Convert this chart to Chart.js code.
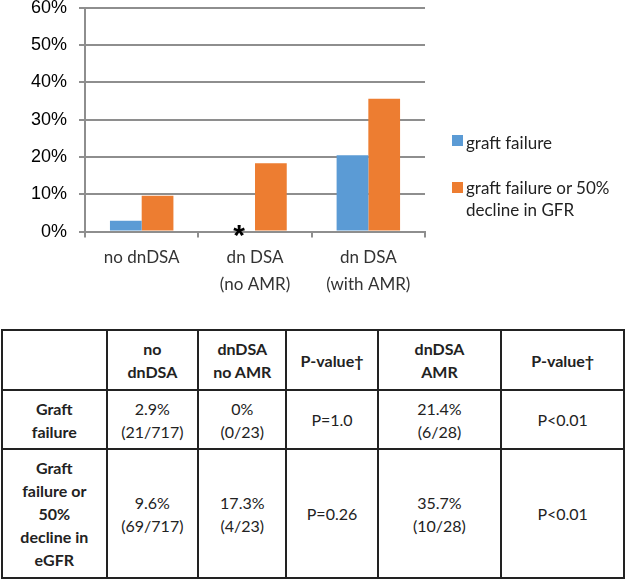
<!DOCTYPE html>
<html>
<head>
<meta charset="utf-8">
<script src="https://cdn.jsdelivr.net/npm/chart.js@4.4.1/dist/chart.umd.min.js"></script>
<style>
  body { margin: 0; background: #fff; width: 628px; height: 579px; position: relative; overflow: hidden; font-family: Lato, "Open Sans", sans-serif; }
  #chartBox { position: absolute; left: 0; top: -15px; width: 628px; height: 319px; }
  .leg { position: absolute; left: 452px; font-size: 17px; color: #222; line-height: 22px; }
  .leg span { position: absolute; left: 0; width: 11px; height: 11px; }
  .leg div { position: absolute; left: 14px; white-space: nowrap; }
  table { position: absolute; left: 1px; top: 329px; border-collapse: collapse; width: 624px; }
  td { border: 2.5px solid #222; text-align: center; vertical-align: middle; font-size: 16px; line-height: 23px; color: #222; padding: 0; }
  tr.head td, td.rowhead { font-weight: bold; }
</style>
</head>
<body>
<div id="chartBox"><canvas id="myChart"></canvas></div>
<div id="legend"></div>
<table id="tbl"></table>
<script>
// chart data
const categories = [['no dnDSA'], ['dn DSA', '(no AMR)'], ['dn DSA', '(with AMR)']];
const seriesNames = ['graft failure', 'graft failure or 50%\ndecline in GFR'];
const graftFailure = [2.9, 0, 20.5];
const failureOrDecline = [9.6, 18.3, 35.6];
const yTicks = [0, 10, 20, 30, 40, 50, 60];
const colors = ['#5b9bd5', '#ed7d31'];

// table data
const tableHeader = ['', 'no\ndnDSA', 'dnDSA\nno AMR', 'P-value\u2020', 'dnDSA\nAMR', 'P-value\u2020'];
const rowLabels = ['Graft\nfailure', 'Graft\nfailure or\n50%\ndecline in\neGFR'];
const tableRows = [
  ['2.9%\n(21/717)', '0%\n(0/23)', 'P=1.0', '21.4%\n(6/28)', 'P<0.01'],
  ['9.6%\n(69/717)', '17.3%\n(4/23)', 'P=0.26', '35.7%\n(10/28)', 'P<0.01']
];
const colWidths = [105, 91, 88, 91, 125, 124];
const rowHeights = [60, 59, 129];

// asterisk on the empty bar
const asteriskPlugin = {
  id: 'asterisk',
  afterDatasetsDraw(chart) {
    const bar = chart.getDatasetMeta(0).data[1];
    const y0 = chart.scales.y.getPixelForValue(0);
    const ctx = chart.ctx;
    ctx.save();
    ctx.fillStyle = '#000';
    ctx.font = 'bold 30px "Liberation Sans"';
    ctx.textAlign = 'center';
    ctx.textBaseline = 'middle';
    ctx.fillText('*', bar.x, y0 + 5);
    ctx.restore();
  }
};

const ctx = document.getElementById('myChart').getContext('2d');
new Chart(ctx, {
  type: 'bar',
  data: {
    labels: categories,
    datasets: [
      { label: seriesNames[0], data: graftFailure, backgroundColor: colors[0] },
      { label: seriesNames[1], data: failureOrDecline, backgroundColor: colors[1] }
    ]
  },
  options: {
    responsive: true,
    maintainAspectRatio: false,
    animation: false,
    layout: { padding: { left: 19, right: 203, top: 0, bottom: 0 } },
    datasets: { bar: { categoryPercentage: 0.56, barPercentage: 1.0 } },
    plugins: { legend: { display: false }, tooltip: { enabled: false } },
    scales: {
      y: {
        min: 0,
        max: 60,
        afterBuildTicks(axis) { axis.ticks = yTicks.map(v => ({ value: v })); },
        ticks: {
          callback: v => v + '%',
          color: '#000',
          padding: 12,
          font: { family: 'Liberation Sans', size: 18 }
        },
        grid: { color: '#8e8e8e', lineWidth: 2, tickLength: 6 },
        border: { color: '#8e8e8e', width: 2 }
      },
      x: {
        ticks: {
          color: '#333',
          padding: 6,
          font: { family: 'Lato', size: 17, lineHeight: 1.6 }
        },
        grid: { offset: true, drawOnChartArea: false, color: '#8e8e8e', lineWidth: 2, tickLength: 6 },
        border: { color: '#8e8e8e', width: 2 }
      }
    }
  },
  plugins: [asteriskPlugin]
});

// legend
const legend = document.getElementById('legend');
const legTops = [132, 177];
seriesNames.forEach((name, i) => {
  const item = document.createElement('div');
  item.className = 'leg';
  item.style.top = legTops[i] + 'px';
  item.innerHTML = '<span style="background:' + colors[i] + ';top:' + (i === 0 ? 3 : 5) + 'px"></span>' +
    '<div>' + name.replace('\n', '<br>') + '</div>';
  legend.appendChild(item);
});

// table
const tbl = document.getElementById('tbl');
const br = s => s.split('\n').join('<br>');
let html = '<tr class="head" style="height:' + rowHeights[0] + 'px">';
tableHeader.forEach((h, i) => { html += '<td style="width:' + colWidths[i] + 'px">' + br(h) + '</td>'; });
html += '</tr>';
tableRows.forEach((row, r) => {
  html += '<tr style="height:' + rowHeights[r + 1] + 'px"><td class="rowhead">' + br(rowLabels[r]) + '</td>';
  row.forEach(c => { html += '<td>' + br(c) + '</td>'; });
  html += '</tr>';
});
tbl.innerHTML = html;
</script>
</body>
</html>
